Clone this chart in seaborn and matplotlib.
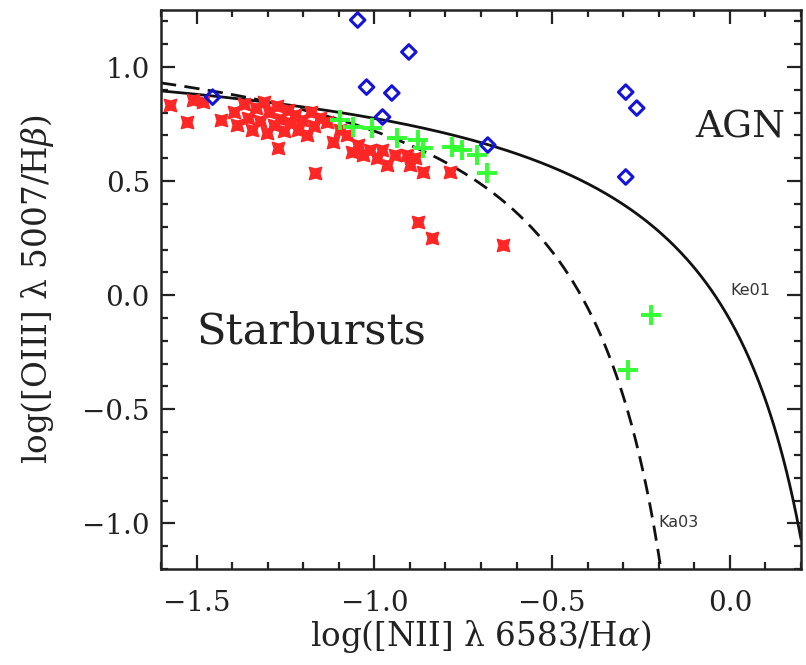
import numpy as np
import pandas as pd
import matplotlib
matplotlib.use("Agg")
import matplotlib.pyplot as plt
import seaborn as sns

# ---- data ----
red_x = [-1.576, -1.511, -1.483, -1.528, -1.430,
         -1.396, -1.385, -1.368, -1.356, -1.345, -1.334, -1.323, -1.311, -1.303,
         -1.295, -1.283, -1.275, -1.264, -1.255, -1.244, -1.235, -1.224, -1.216,
         -1.204, -1.190, -1.179, -1.171, -1.154, -1.272, -1.168, -1.134, -1.117,
         -1.098, -1.078, -1.064, -1.047, -1.033, -1.013, -0.993, -0.979, -0.965,
         -0.943, -0.909, -0.901, -0.886, -0.864, -0.788, -0.878, -0.839, -0.639]
red_y = [0.833, 0.855, 0.846, 0.759, 0.768,
         0.803, 0.746, 0.838, 0.776, 0.724, 0.820, 0.763, 0.846, 0.711,
         0.803, 0.746, 0.829, 0.772, 0.719, 0.811, 0.755, 0.789, 0.724,
         0.768, 0.702, 0.803, 0.741, 0.776, 0.645, 0.535, 0.759, 0.671,
         0.724, 0.702, 0.627, 0.658, 0.614, 0.636, 0.601, 0.636, 0.570,
         0.614, 0.614, 0.570, 0.601, 0.539, 0.539, 0.320, 0.250, 0.219]

green_x = [-1.098, -1.061, -1.007, -0.937, -0.878, -0.864, -0.782, -0.754,
           -0.712, -0.684, -0.222, -0.287]
green_y = [0.768, 0.737, 0.732, 0.689, 0.680, 0.645, 0.649, 0.636,
           0.614, 0.535, -0.088, -0.329]

blue_x = [-1.047, -0.903, -1.022, -0.951, -0.977, -1.455, -0.681, -0.293,
          -0.262, -0.293]
blue_y = [1.206, 1.066, 0.912, 0.886, 0.781, 0.868, 0.658, 0.890,
          0.820, 0.518]

x_ticks = [-1.5, -1.0, -0.5, 0.0]
y_ticks = [-1.0, -0.5, 0.0, 0.5, 1.0]

# demarcation curves (Kewley 2001, Kauffmann 2003)
ke_x = np.linspace(-1.6, 0.2, 400)
ke_y = 0.61 / (ke_x - 0.47) + 1.19
ka_x = np.linspace(-1.6, -0.185, 400)
ka_y = 0.61 / (ka_x - 0.05) + 1.30

# ---- plot ----
sns.set_theme(style="ticks")
plt.rcParams["font.family"] = ["DejaVu Serif", "DejaVu Sans"]
plt.rcParams["mathtext.fontset"] = "dejavuserif"
plt.rcParams["axes.unicode_minus"] = True

fig = plt.figure(figsize=(8.06, 6.65), dpi=100)
ax = fig.add_axes([0.1998, 0.1444, 0.794, 0.8406])

sns.lineplot(x=ke_x, y=ke_y, ax=ax, color="#111111", linewidth=2.0, sort=False)
sns.lineplot(x=ka_x, y=ka_y, ax=ax, color="#111111", linewidth=2.0, sort=False,
             dashes=False)
ax.lines[-1].set_dashes((5.5, 3))

sns.scatterplot(x=red_x, y=red_y, ax=ax, marker=(4, 1, 45), s=150,
                color="#ff2626", edgecolor="#ff2626", linewidth=1.2, zorder=3)
sns.scatterplot(x=green_x, y=green_y, ax=ax, marker="+", s=190,
                color="#33ff33", linewidth=2.8, zorder=4)
sns.scatterplot(x=blue_x, y=blue_y, ax=ax, marker="D", s=55,
                facecolor="none", edgecolor="#1414d8", linewidth=2.2, zorder=5)

ax.set_xlim(-1.6, 0.2)
ax.set_ylim(-1.2, 1.25)
ax.set_xticks(x_ticks)
ax.set_yticks(y_ticks)
ax.set_xticks(np.arange(-1.6, 0.21, 0.1), minor=True)
ax.set_yticks(np.arange(-1.2, 1.251, 0.1), minor=True)
fmt = matplotlib.ticker.FuncFormatter(lambda v, p: f"{v:.1f}".replace("-", "\u2212"))
ax.xaxis.set_major_formatter(fmt)
ax.yaxis.set_major_formatter(fmt)

ax.tick_params(which="both", direction="in", top=True, right=True,
               colors="#222222", width=1.6)
ax.tick_params(which="major", length=10, labelsize=20)
ax.tick_params(which="minor", length=5)
ax.tick_params(axis="x", which="major", pad=15)
ax.tick_params(axis="y", which="major", pad=8)
for sp in ax.spines.values():
    sp.set_visible(True)
    sp.set_linewidth(1.8)
    sp.set_color("#222222")

ax.set_xlabel(r"log([NII] λ 6583/H$\alpha$)", fontsize=23.5, color="#222222",
              labelpad=1)
ax.set_ylabel(r"log([OIII] λ 5007/H$\beta$)", fontsize=23.5, color="#222222",
              labelpad=19)

ax.text(-1.5, -0.21, "Starbursts", fontsize=31, ha="left", va="baseline",
        color="#222222")
ax.text(-0.098, 0.693, "AGN", fontsize=27, ha="left", va="baseline",
        color="#222222")
ax.text(0.0, 0.0, "Ke01", fontsize=11.5, ha="left", va="baseline",
        color="#333333", family=["DejaVu Sans"])
ax.text(-0.2, -1.018, "Ka03", fontsize=11.5, ha="left", va="baseline",
        color="#333333", family=["DejaVu Sans"])

fig.savefig("out.png", dpi=100)
